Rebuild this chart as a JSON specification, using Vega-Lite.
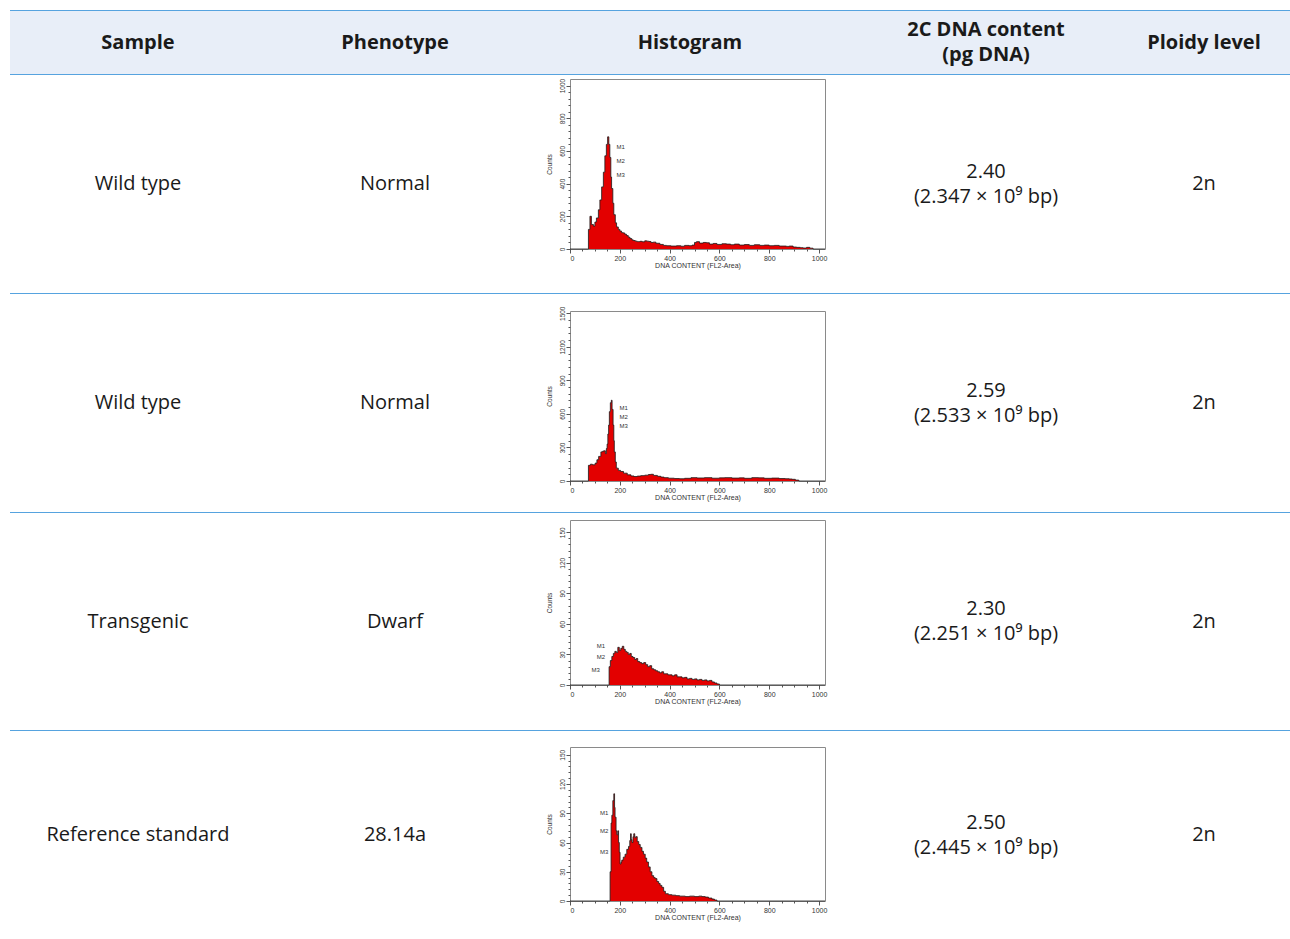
{
  "$schema": "https://vega.github.io/schema/vega-lite/v6.json",
  "padding": {"left": 10, "top": 10, "right": 0, "bottom": 0},
  "background": "white",
  "spacing": 0,
  "config": {
    "view": {"stroke": null},
    "concat": {"spacing": 0},
    "axis": {"labelOverlap": false, "labelBound": false, "tickCount": 100},
    "text": {"font": "Open Sans", "color": "#1a1a1a"}
  },
  "datasets": {
    "cells": [
      {"row": 0, "col": "Sample", "label": "Sample"},
      {"row": 0, "col": "Phenotype", "label": "Phenotype"},
      {"row": 0, "col": "Histogram", "label": "Histogram"},
      {"row": 0, "col": "DNA", "label": "2C DNA content\n(pg DNA)"},
      {"row": 0, "col": "Ploidy", "label": "Ploidy level"},
      {"row": 1, "col": "Sample", "label": "Wild type"},
      {"row": 1, "col": "Phenotype", "label": "Normal"},
      {"row": 1, "col": "DNA", "label": "2.40\n(2.347 × 10⁹ bp)"},
      {"row": 1, "col": "Ploidy", "label": "2n"},
      {"row": 2, "col": "Sample", "label": "Wild type"},
      {"row": 2, "col": "Phenotype", "label": "Normal"},
      {"row": 2, "col": "DNA", "label": "2.59\n(2.533 × 10⁹ bp)"},
      {"row": 2, "col": "Ploidy", "label": "2n"},
      {"row": 3, "col": "Sample", "label": "Transgenic"},
      {"row": 3, "col": "Phenotype", "label": "Dwarf"},
      {"row": 3, "col": "DNA", "label": "2.30\n(2.251 × 10⁹ bp)"},
      {"row": 3, "col": "Ploidy", "label": "2n"},
      {"row": 4, "col": "Sample", "label": "Reference standard"},
      {"row": 4, "col": "Phenotype", "label": "28.14a"},
      {"row": 4, "col": "DNA", "label": "2.50\n(2.445 × 10⁹ bp)"},
      {"row": 4, "col": "Ploidy", "label": "2n"}
    ],
    "markers": [
      {"h": 1, "x": 187, "y": 621, "label": "M1"},
      {"h": 1, "x": 187, "y": 537, "label": "M2"},
      {"h": 1, "x": 187, "y": 455, "label": "M3"},
      {"h": 2, "x": 199, "y": 653, "label": "M1"},
      {"h": 2, "x": 199, "y": 573, "label": "M2"},
      {"h": 2, "x": 199, "y": 493, "label": "M3"},
      {"h": 3, "x": 141, "y": 38, "label": "M1"},
      {"h": 3, "x": 141, "y": 27.5, "label": "M2"},
      {"h": 3, "x": 120, "y": 15, "label": "M3"},
      {"h": 4, "x": 154, "y": 90, "label": "M1"},
      {"h": 4, "x": 154, "y": 72, "label": "M2"},
      {"h": 4, "x": 154, "y": 50, "label": "M3"}
    ],
    "h1": [
      {"x":0,"y":0},{"x":70,"y":0},{"x":74,"y":120},{"x":80,"y":200},{"x":86,"y":150},{"x":94,"y":140},{"x":100,"y":165},{"x":106,"y":190},{"x":114,"y":240},{"x":120,"y":300},{"x":127,"y":380},{"x":134,"y":470},{"x":140,"y":570},{"x":146,"y":640},{"x":151,"y":686},{"x":156,"y":640},{"x":160,"y":560},{"x":164,"y":440},{"x":167,"y":370},{"x":172,"y":280},{"x":176,"y":210},{"x":182,"y":160},{"x":187,"y":135},{"x":194,"y":120},{"x":200,"y":110},{"x":207,"y":100},{"x":214,"y":98},{"x":220,"y":90},{"x":227,"y":82},{"x":234,"y":72},{"x":241,"y":64},{"x":248,"y":56},{"x":254,"y":52},{"x":262,"y":48},{"x":270,"y":45},{"x":281,"y":47},{"x":290,"y":44},{"x":300,"y":50},{"x":308,"y":48},{"x":316,"y":46},{"x":325,"y":40},{"x":334,"y":42},{"x":345,"y":35},{"x":361,"y":28},{"x":375,"y":22},{"x":388,"y":20},{"x":405,"y":18},{"x":428,"y":20},{"x":445,"y":17},{"x":460,"y":22},{"x":478,"y":20},{"x":490,"y":24},{"x":500,"y":40},{"x":508,"y":45},{"x":520,"y":36},{"x":535,"y":40},{"x":548,"y":38},{"x":560,"y":30},{"x":575,"y":34},{"x":590,"y":28},{"x":610,"y":32},{"x":628,"y":30},{"x":645,"y":26},{"x":660,"y":30},{"x":680,"y":24},{"x":700,"y":27},{"x":720,"y":22},{"x":740,"y":26},{"x":762,"y":22},{"x":780,"y":24},{"x":800,"y":20},{"x":820,"y":22},{"x":840,"y":18},{"x":869,"y":16},{"x":880,"y":18},{"x":896,"y":12},{"x":910,"y":10},{"x":925,"y":8},{"x":936,"y":6},{"x":950,"y":10},{"x":963,"y":5},{"x":976,"y":0},{"x":1024,"y":0}
    ],
    "h2": [
      {"x":0,"y":0},{"x":72,"y":0},{"x":74,"y":140},{"x":82,"y":150},{"x":90,"y":145},{"x":101,"y":160},{"x":108,"y":190},{"x":115,"y":220},{"x":124,"y":260},{"x":130,"y":265},{"x":135,"y":270},{"x":142,"y":245},{"x":146,"y":290},{"x":149,"y":330},{"x":152,"y":420},{"x":155,"y":500},{"x":158,"y":620},{"x":162,"y":700},{"x":166,"y":722},{"x":169,"y":640},{"x":173,"y":500},{"x":176,"y":360},{"x":178,"y":260},{"x":182,"y":170},{"x":186,"y":115},{"x":194,"y":95},{"x":203,"y":85},{"x":215,"y":70},{"x":230,"y":55},{"x":245,"y":45},{"x":257,"y":40},{"x":270,"y":44},{"x":284,"y":48},{"x":300,"y":52},{"x":315,"y":58},{"x":324,"y":60},{"x":335,"y":50},{"x":351,"y":42},{"x":365,"y":35},{"x":378,"y":30},{"x":395,"y":25},{"x":419,"y":22},{"x":440,"y":20},{"x":460,"y":24},{"x":486,"y":30},{"x":510,"y":27},{"x":540,"y":30},{"x":570,"y":25},{"x":600,"y":28},{"x":621,"y":30},{"x":650,"y":26},{"x":680,"y":28},{"x":700,"y":24},{"x":730,"y":30},{"x":757,"y":28},{"x":780,"y":24},{"x":810,"y":26},{"x":840,"y":22},{"x":865,"y":20},{"x":880,"y":18},{"x":892,"y":15},{"x":905,"y":8},{"x":919,"y":0},{"x":1024,"y":0}
    ],
    "h3": [
      {"x":0,"y":0},{"x":155,"y":0},{"x":157,"y":18},{"x":162,"y":24},{"x":168,"y":28},{"x":174,"y":31},{"x":180,"y":33},{"x":186,"y":32},{"x":192,"y":37},{"x":198,"y":34},{"x":204,"y":36},{"x":210,"y":38},{"x":216,"y":35},{"x":222,"y":33},{"x":228,"y":32},{"x":234,"y":30},{"x":240,"y":31},{"x":246,"y":28},{"x":253,"y":27},{"x":260,"y":25},{"x":266,"y":26},{"x":272,"y":23},{"x":280,"y":22},{"x":288,"y":21},{"x":296,"y":22},{"x":304,"y":20},{"x":312,"y":18},{"x":320,"y":19},{"x":328,"y":16},{"x":336,"y":15},{"x":344,"y":14},{"x":352,"y":13},{"x":360,"y":12},{"x":368,"y":13},{"x":376,"y":11},{"x":385,"y":11},{"x":393,"y":10},{"x":400,"y":10},{"x":410,"y":9},{"x":420,"y":10},{"x":430,"y":8},{"x":440,"y":8},{"x":450,"y":7},{"x":460,"y":7.5},{"x":470,"y":6},{"x":480,"y":6.5},{"x":490,"y":5.5},{"x":500,"y":6},{"x":510,"y":5},{"x":520,"y":5.5},{"x":530,"y":4.5},{"x":540,"y":5},{"x":550,"y":4},{"x":560,"y":4.5},{"x":570,"y":3},{"x":580,"y":2},{"x":590,"y":1},{"x":600,"y":0},{"x":1024,"y":0}
    ],
    "h4": [
      {"x":0,"y":0},{"x":158,"y":0},{"x":161,"y":30},{"x":165,"y":80},{"x":168,"y":88},{"x":172,"y":103},{"x":176,"y":110},{"x":179,"y":96},{"x":181,"y":86},{"x":185,"y":72},{"x":188,"y":68},{"x":192,"y":72},{"x":195,"y":60},{"x":198,"y":50},{"x":201,"y":38},{"x":205,"y":40},{"x":208,"y":42},{"x":214,"y":45},{"x":221,"y":48},{"x":228,"y":53},{"x":235,"y":56},{"x":240,"y":62},{"x":243,"y":69},{"x":246,"y":63},{"x":249,"y":60},{"x":253,"y":66},{"x":256,"y":69},{"x":260,"y":65},{"x":264,"y":66},{"x":270,"y":61},{"x":276,"y":58},{"x":282,"y":55},{"x":289,"y":51},{"x":295,"y":48},{"x":302,"y":44},{"x":308,"y":40},{"x":315,"y":35},{"x":322,"y":30},{"x":329,"y":26},{"x":336,"y":24},{"x":342,"y":23},{"x":349,"y":20},{"x":356,"y":18},{"x":362,"y":16},{"x":369,"y":14},{"x":376,"y":10},{"x":383,"y":7.5},{"x":395,"y":6.5},{"x":409,"y":6},{"x":425,"y":5.5},{"x":440,"y":5},{"x":463,"y":4.5},{"x":480,"y":5},{"x":500,"y":4.5},{"x":517,"y":5},{"x":530,"y":4.5},{"x":543,"y":4},{"x":556,"y":3},{"x":570,"y":2},{"x":580,"y":1},{"x":590,"y":0},{"x":1024,"y":0}
    ]
  },
  "vconcat": [
    {"width": 1280, "height": 1, "view": {"fill": "#56a3df", "stroke": null}, "data": {"values": [{}]}, "mark": {"type": "text", "text": "", "fontSize": 0}},
    {"hconcat": [
      {"width": 535, "height": 63, "view": {"fill": "#e8eef8", "stroke": null}, "data": {"name": "cells"},
       "transform": [{"filter": "datum.row == 0 && (datum.col == 'Sample' || datum.col == 'Phenotype')"}],
       "mark": {"type": "text", "fontWeight": "bold", "fontSize": 20},
       "encoding": {"x": {"field": "col", "type": "nominal", "scale": {"type": "point", "domain": ["Sample", "Phenotype"], "padding": 0.5409, "align": 0.4604}, "axis": null}, "text": {"field": "label"}}},
      {"width": 283, "height": 63, "view": {"fill": "#e8eef8", "stroke": null}, "data": {"name": "cells"},
       "transform": [{"filter": "datum.row == 0 && datum.col == 'Histogram'"}],
       "mark": {"type": "text", "fontWeight": "bold", "fontSize": 20},
       "encoding": {"x": {"field": "col", "type": "nominal", "scale": {"type": "point", "domain": ["Histogram"], "padding": 0.5, "align": 0.512}, "axis": null}, "text": {"field": "label"}}},
      {"width": 462, "height": 63, "view": {"fill": "#e8eef8", "stroke": null}, "data": {"name": "cells"},
       "transform": [{"filter": "datum.row == 0 && (datum.col == 'DNA' || datum.col == 'Ploidy')"}],
       "encoding": {"x": {"field": "col", "type": "nominal", "scale": {"type": "point", "domain": ["DNA", "Ploidy"], "padding": 0.5596, "align": 0.6475}, "axis": null}, "text": {"field": "label"}},
       "layer": [
        {"transform": [{"filter": "datum.col == 'DNA'"}], "mark": {"type": "text", "fontWeight": "bold", "fontSize": 20, "lineBreak": "\n", "lineHeight": 25, "dy": -12.5}},
        {"transform": [{"filter": "datum.col == 'Ploidy'"}], "mark": {"type": "text", "fontWeight": "bold", "fontSize": 20}}
       ]}
    ]},
    {"width": 1280, "height": 1, "view": {"fill": "#56a3df", "stroke": null}, "data": {"values": [{}]}, "mark": {"type": "text", "text": "", "fontSize": 0}},
    {"hconcat": [
      {"width": 535, "height": 218, "data": {"name": "cells"},
       "transform": [{"filter": "datum.row == 1 && (datum.col == 'Sample' || datum.col == 'Phenotype')"}],
       "mark": {"type": "text", "fontSize": 20},
       "encoding": {"x": {"field": "col", "type": "nominal", "scale": {"type": "point", "domain": ["Sample", "Phenotype"], "padding": 0.5409, "align": 0.4604}, "axis": null}, "text": {"field": "label"}}},
      {"vconcat": [
        {"width": 1, "height": 2, "data": {"values": [{}]}, "mark": {"type": "text", "text": "", "fontSize": 0}},
        {"width": 255, "height": 170, "view": {"stroke": "#8a8a8a", "strokeWidth": 1, "fill": "white"},
         "layer": [
          {"data": {"name": "h1"},
           "mark": {"type": "area", "interpolate": "step-after", "color": "#e30000", "opacity": 1, "line": {"color": "#1a1a1a", "strokeWidth": 0.8}},
           "encoding": {
            "x": {"field": "x", "type": "quantitative", "scale": {"domain": [0, 1024], "nice": false},
                  "axis": {"values": [0,50,100,150,200,250,300,350,400,450,500,550,600,650,700,750,800,850,900,950,1000], "tickCount": 100, "format": "d", "labelExpr": "datum.value % 200 === 0 ? datum.label : ''", "labelOverlap": false, "labelFont": "Liberation Sans", "labelFontSize": 7, "labelColor": "#333", "labelPadding": 1, "tickColor": "#555", "tickSize": {"condition": {"test": "datum.value % 200 === 0", "value": 4}, "value": 2}, "domain": false, "grid": false, "title": "DNA CONTENT (FL2-Area)", "titleFont": "Liberation Sans", "titleFontSize": 7, "titleFontWeight": "normal", "titleColor": "#333", "titlePadding": 0}},
            "y": {"field": "y", "type": "quantitative", "scale": {"domain": [0, 1040], "nice": false},
                  "axis": {"values": [0,40,80,120,160,200,240,280,320,360,400,440,480,520,560,600,640,680,720,760,800,840,880,920,960,1000], "tickCount": 100, "format": "d", "labelExpr": "datum.value % 200 === 0 ? datum.label : ''", "labelOverlap": false, "labelAngle": 270, "labelFlush": false, "labelFont": "Liberation Sans", "labelFontSize": 6.5, "labelColor": "#333", "labelPadding": 1, "tickColor": "#555", "tickSize": {"condition": {"test": "datum.value % 200 === 0", "value": 4}, "value": 2}, "domain": false, "grid": false, "title": "Counts", "titleFont": "Liberation Sans", "titleFontSize": 6.5, "titleFontWeight": "normal", "titleColor": "#333", "titlePadding": 3, "minExtent": 15, "maxExtent": 15}}
           }},
          {"data": {"name": "markers"}, "transform": [{"filter": "datum.h == 1"}],
           "mark": {"type": "text", "align": "left", "font": "Liberation Sans", "fontSize": 6, "color": "#333"},
           "encoding": {"x": {"field": "x", "type": "quantitative"}, "y": {"field": "y", "type": "quantitative"}, "text": {"field": "label"}}}
         ]}
      ]},
      {"width": 462, "height": 218, "data": {"name": "cells"},
       "transform": [{"filter": "datum.row == 1 && (datum.col == 'DNA' || datum.col == 'Ploidy')"}],
       "encoding": {"x": {"field": "col", "type": "nominal", "scale": {"type": "point", "domain": ["DNA", "Ploidy"], "padding": 0.5596, "align": 0.6475}, "axis": null}, "text": {"field": "label"}},
       "layer": [
        {"transform": [{"filter": "datum.col == 'DNA'"}], "mark": {"type": "text", "fontSize": 20, "lineBreak": "\n", "lineHeight": 25, "dy": -12.5}},
        {"transform": [{"filter": "datum.col == 'Ploidy'"}], "mark": {"type": "text", "fontSize": 20}}
       ]}
    ]},
    {"width": 1280, "height": 1, "view": {"fill": "#56a3df", "stroke": null}, "data": {"values": [{}]}, "mark": {"type": "text", "text": "", "fontSize": 0}},
    {"hconcat": [
      {"width": 535, "height": 218, "data": {"name": "cells"},
       "transform": [{"filter": "datum.row == 2 && (datum.col == 'Sample' || datum.col == 'Phenotype')"}],
       "mark": {"type": "text", "fontSize": 20},
       "encoding": {"x": {"field": "col", "type": "nominal", "scale": {"type": "point", "domain": ["Sample", "Phenotype"], "padding": 0.5409, "align": 0.4604}, "axis": null}, "text": {"field": "label"}}},
      {"vconcat": [
        {"width": 1, "height": 11, "data": {"values": [{}]}, "mark": {"type": "text", "text": "", "fontSize": 0}},
        {"width": 255, "height": 170, "view": {"stroke": "#8a8a8a", "strokeWidth": 1, "fill": "white"},
         "layer": [
          {"data": {"name": "h2"},
           "mark": {"type": "area", "interpolate": "step-after", "color": "#e30000", "opacity": 1, "line": {"color": "#1a1a1a", "strokeWidth": 0.8}},
           "encoding": {
            "x": {"field": "x", "type": "quantitative", "scale": {"domain": [0, 1024], "nice": false},
                  "axis": {"values": [0,50,100,150,200,250,300,350,400,450,500,550,600,650,700,750,800,850,900,950,1000], "tickCount": 100, "format": "d", "labelExpr": "datum.value % 200 === 0 ? datum.label : ''", "labelOverlap": false, "labelFont": "Liberation Sans", "labelFontSize": 7, "labelColor": "#333", "labelPadding": 1, "tickColor": "#555", "tickSize": {"condition": {"test": "datum.value % 200 === 0", "value": 4}, "value": 2}, "domain": false, "grid": false, "title": "DNA CONTENT (FL2-Area)", "titleFont": "Liberation Sans", "titleFontSize": 7, "titleFontWeight": "normal", "titleColor": "#333", "titlePadding": 0}},
            "y": {"field": "y", "type": "quantitative", "scale": {"domain": [0, 1520], "nice": false},
                  "axis": {"values": [0,60,120,180,240,300,360,420,480,540,600,660,720,780,840,900,960,1020,1080,1140,1200,1260,1320,1380,1440,1500], "tickCount": 100, "format": "d", "labelExpr": "datum.value % 300 === 0 ? datum.label : ''", "labelOverlap": false, "labelAngle": 270, "labelFlush": false, "labelFont": "Liberation Sans", "labelFontSize": 6.5, "labelColor": "#333", "labelPadding": 1, "tickColor": "#555", "tickSize": {"condition": {"test": "datum.value % 300 === 0", "value": 4}, "value": 2}, "domain": false, "grid": false, "title": "Counts", "titleFont": "Liberation Sans", "titleFontSize": 6.5, "titleFontWeight": "normal", "titleColor": "#333", "titlePadding": 3, "minExtent": 15, "maxExtent": 15}}
           }},
          {"data": {"name": "markers"}, "transform": [{"filter": "datum.h == 2"}],
           "mark": {"type": "text", "align": "left", "font": "Liberation Sans", "fontSize": 6, "color": "#333"},
           "encoding": {"x": {"field": "x", "type": "quantitative"}, "y": {"field": "y", "type": "quantitative"}, "text": {"field": "label"}}}
         ]}
      ]},
      {"width": 462, "height": 218, "data": {"name": "cells"},
       "transform": [{"filter": "datum.row == 2 && (datum.col == 'DNA' || datum.col == 'Ploidy')"}],
       "encoding": {"x": {"field": "col", "type": "nominal", "scale": {"type": "point", "domain": ["DNA", "Ploidy"], "padding": 0.5596, "align": 0.6475}, "axis": null}, "text": {"field": "label"}},
       "layer": [
        {"transform": [{"filter": "datum.col == 'DNA'"}], "mark": {"type": "text", "fontSize": 20, "lineBreak": "\n", "lineHeight": 25, "dy": -12.5}},
        {"transform": [{"filter": "datum.col == 'Ploidy'"}], "mark": {"type": "text", "fontSize": 20}}
       ]}
    ]},
    {"width": 1280, "height": 1, "view": {"fill": "#56a3df", "stroke": null}, "data": {"values": [{}]}, "mark": {"type": "text", "text": "", "fontSize": 0}},
    {"hconcat": [
      {"width": 535, "height": 217, "data": {"name": "cells"},
       "transform": [{"filter": "datum.row == 3 && (datum.col == 'Sample' || datum.col == 'Phenotype')"}],
       "mark": {"type": "text", "fontSize": 20},
       "encoding": {"x": {"field": "col", "type": "nominal", "scale": {"type": "point", "domain": ["Sample", "Phenotype"], "padding": 0.5409, "align": 0.4604}, "axis": null}, "text": {"field": "label"}}},
      {"vconcat": [
        {"width": 1, "height": 6, "data": {"values": [{}]}, "mark": {"type": "text", "text": "", "fontSize": 0}},
        {"width": 255, "height": 165, "view": {"stroke": "#8a8a8a", "strokeWidth": 1, "fill": "white"},
         "layer": [
          {"data": {"name": "h3"},
           "mark": {"type": "area", "interpolate": "step-after", "color": "#e30000", "opacity": 1, "line": {"color": "#1a1a1a", "strokeWidth": 0.8}},
           "encoding": {
            "x": {"field": "x", "type": "quantitative", "scale": {"domain": [0, 1024], "nice": false},
                  "axis": {"values": [0,50,100,150,200,250,300,350,400,450,500,550,600,650,700,750,800,850,900,950,1000], "tickCount": 100, "format": "d", "labelExpr": "datum.value % 200 === 0 ? datum.label : ''", "labelOverlap": false, "labelFont": "Liberation Sans", "labelFontSize": 7, "labelColor": "#333", "labelPadding": 1, "tickColor": "#555", "tickSize": {"condition": {"test": "datum.value % 200 === 0", "value": 4}, "value": 2}, "domain": false, "grid": false, "title": "DNA CONTENT (FL2-Area)", "titleFont": "Liberation Sans", "titleFontSize": 7, "titleFontWeight": "normal", "titleColor": "#333", "titlePadding": 0}},
            "y": {"field": "y", "type": "quantitative", "scale": {"domain": [0, 162], "nice": false},
                  "axis": {"values": [0,6,12,18,24,30,36,42,48,54,60,66,72,78,84,90,96,102,108,114,120,126,132,138,144,150], "tickCount": 100, "format": "d", "labelExpr": "datum.value % 30 === 0 ? datum.label : ''", "labelOverlap": false, "labelAngle": 270, "labelFlush": false, "labelFont": "Liberation Sans", "labelFontSize": 6.5, "labelColor": "#333", "labelPadding": 1, "tickColor": "#555", "tickSize": {"condition": {"test": "datum.value % 30 === 0", "value": 4}, "value": 2}, "domain": false, "grid": false, "title": "Counts", "titleFont": "Liberation Sans", "titleFontSize": 6.5, "titleFontWeight": "normal", "titleColor": "#333", "titlePadding": 3, "minExtent": 15, "maxExtent": 15}}
           }},
          {"data": {"name": "markers"}, "transform": [{"filter": "datum.h == 3"}],
           "mark": {"type": "text", "align": "right", "font": "Liberation Sans", "fontSize": 6, "color": "#333"},
           "encoding": {"x": {"field": "x", "type": "quantitative"}, "y": {"field": "y", "type": "quantitative"}, "text": {"field": "label"}}}
         ]}
      ]},
      {"width": 462, "height": 217, "data": {"name": "cells"},
       "transform": [{"filter": "datum.row == 3 && (datum.col == 'DNA' || datum.col == 'Ploidy')"}],
       "encoding": {"x": {"field": "col", "type": "nominal", "scale": {"type": "point", "domain": ["DNA", "Ploidy"], "padding": 0.5596, "align": 0.6475}, "axis": null}, "text": {"field": "label"}},
       "layer": [
        {"transform": [{"filter": "datum.col == 'DNA'"}], "mark": {"type": "text", "fontSize": 20, "lineBreak": "\n", "lineHeight": 25, "dy": -12.5}},
        {"transform": [{"filter": "datum.col == 'Ploidy'"}], "mark": {"type": "text", "fontSize": 20}}
       ]}
    ]},
    {"width": 1280, "height": 1, "view": {"fill": "#56a3df", "stroke": null}, "data": {"values": [{}]}, "mark": {"type": "text", "text": "", "fontSize": 0}},
    {"hconcat": [
      {"width": 535, "height": 208, "data": {"name": "cells"},
       "transform": [{"filter": "datum.row == 4 && (datum.col == 'Sample' || datum.col == 'Phenotype')"}],
       "mark": {"type": "text", "fontSize": 20},
       "encoding": {"x": {"field": "col", "type": "nominal", "scale": {"type": "point", "domain": ["Sample", "Phenotype"], "padding": 0.5409, "align": 0.4604}, "axis": null}, "text": {"field": "label"}}},
      {"vconcat": [
        {"width": 1, "height": 15, "data": {"values": [{}]}, "mark": {"type": "text", "text": "", "fontSize": 0}},
        {"width": 255, "height": 154, "view": {"stroke": "#8a8a8a", "strokeWidth": 1, "fill": "white"},
         "layer": [
          {"data": {"name": "h4"},
           "mark": {"type": "area", "interpolate": "step-after", "color": "#e30000", "opacity": 1, "line": {"color": "#1a1a1a", "strokeWidth": 0.8}},
           "encoding": {
            "x": {"field": "x", "type": "quantitative", "scale": {"domain": [0, 1024], "nice": false},
                  "axis": {"values": [0,50,100,150,200,250,300,350,400,450,500,550,600,650,700,750,800,850,900,950,1000], "tickCount": 100, "format": "d", "labelExpr": "datum.value % 200 === 0 ? datum.label : ''", "labelOverlap": false, "labelFont": "Liberation Sans", "labelFontSize": 7, "labelColor": "#333", "labelPadding": 1, "tickColor": "#555", "tickSize": {"condition": {"test": "datum.value % 200 === 0", "value": 4}, "value": 2}, "domain": false, "grid": false, "title": "DNA CONTENT (FL2-Area)", "titleFont": "Liberation Sans", "titleFontSize": 7, "titleFontWeight": "normal", "titleColor": "#333", "titlePadding": 0}},
            "y": {"field": "y", "type": "quantitative", "scale": {"domain": [0, 158], "nice": false},
                  "axis": {"values": [0,6,12,18,24,30,36,42,48,54,60,66,72,78,84,90,96,102,108,114,120,126,132,138,144,150], "tickCount": 100, "format": "d", "labelExpr": "datum.value % 30 === 0 ? datum.label : ''", "labelOverlap": false, "labelAngle": 270, "labelFlush": false, "labelFont": "Liberation Sans", "labelFontSize": 6.5, "labelColor": "#333", "labelPadding": 1, "tickColor": "#555", "tickSize": {"condition": {"test": "datum.value % 30 === 0", "value": 4}, "value": 2}, "domain": false, "grid": false, "title": "Counts", "titleFont": "Liberation Sans", "titleFontSize": 6.5, "titleFontWeight": "normal", "titleColor": "#333", "titlePadding": 3, "minExtent": 15, "maxExtent": 15}}
           }},
          {"data": {"name": "markers"}, "transform": [{"filter": "datum.h == 4"}],
           "mark": {"type": "text", "align": "right", "font": "Liberation Sans", "fontSize": 6, "color": "#333"},
           "encoding": {"x": {"field": "x", "type": "quantitative"}, "y": {"field": "y", "type": "quantitative"}, "text": {"field": "label"}}}
         ]}
      ]},
      {"width": 462, "height": 208, "data": {"name": "cells"},
       "transform": [{"filter": "datum.row == 4 && (datum.col == 'DNA' || datum.col == 'Ploidy')"}],
       "encoding": {"x": {"field": "col", "type": "nominal", "scale": {"type": "point", "domain": ["DNA", "Ploidy"], "padding": 0.5596, "align": 0.6475}, "axis": null}, "text": {"field": "label"}},
       "layer": [
        {"transform": [{"filter": "datum.col == 'DNA'"}], "mark": {"type": "text", "fontSize": 20, "lineBreak": "\n", "lineHeight": 25, "dy": -12.5}},
        {"transform": [{"filter": "datum.col == 'Ploidy'"}], "mark": {"type": "text", "fontSize": 20}}
       ]}
    ]}
  ]
}
